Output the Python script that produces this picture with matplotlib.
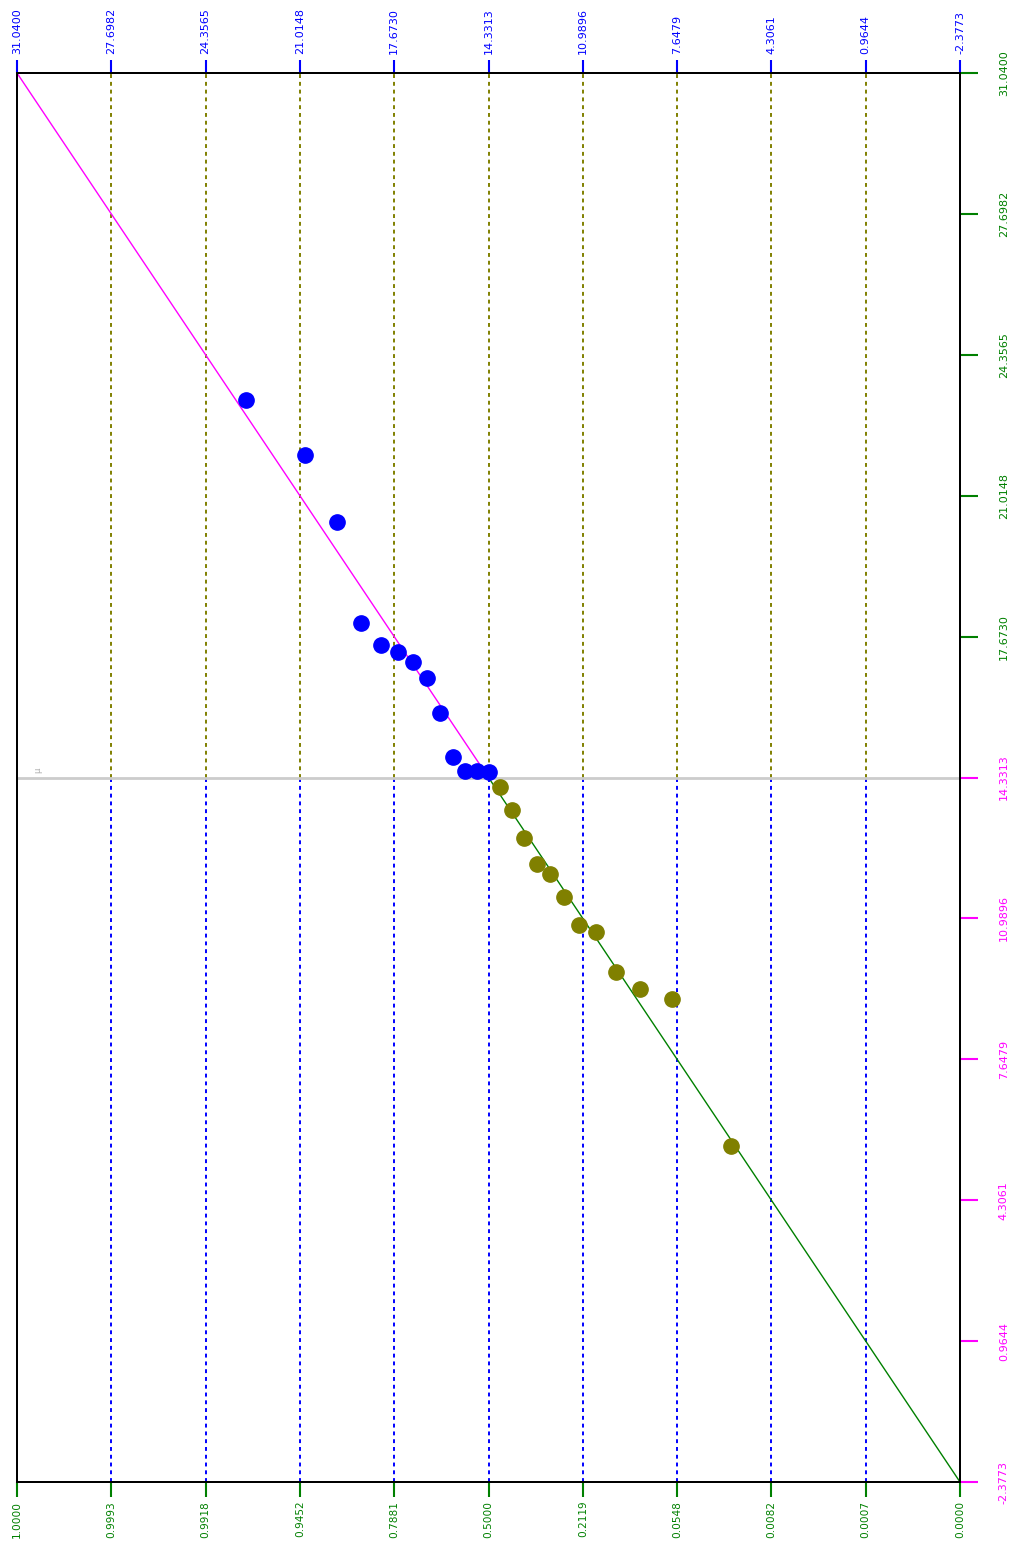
import matplotlib
matplotlib.use("Agg")
import matplotlib.pyplot as plt
from matplotlib import font_manager

# narrow font if available, otherwise a smaller DejaVu Sans
names = {f.name for f in font_manager.fontManager.ttflist}
if 'Liberation Sans Narrow' in names:
    plt.rcParams['font.family'] = ['Liberation Sans Narrow', 'DejaVu Sans']
    FS, FS_B = 10, 10
else:
    plt.rcParams['font.family'] = ['DejaVu Sans']
    FS, FS_B = 8, 7.6

# normal scores (plotting positions) and data values, upper and lower halves
z_upper = [2.054, 1.555, 1.282, 1.080, 0.915, 0.772, 0.643, 0.524, 0.412, 0.305, 0.202, 0.100, 0.0]
v_upper = [23.29, 21.98, 20.39, 18.00, 17.47, 17.31, 17.07, 16.69, 15.86, 14.82, 14.49, 14.49, 14.46]
z_lower = [-0.100, -0.202, -0.305, -0.412, -0.524, -0.643, -0.772, -0.915, -1.080, -1.282, -1.555, -2.054]
v_lower = [14.11, 13.56, 12.90, 12.28, 12.04, 11.50, 10.83, 10.67, 9.72, 9.32, 9.08, 5.59]

mean = 14.3313
sigma = 4.1771

z_ticks = [4.0, 3.2, 2.4, 1.6, 0.8, 0.0, -0.8, -1.6, -2.4, -3.2, -4.0]
prob_labels = ['1.0000', '0.9993', '0.9918', '0.9452', '0.7881', '0.5000',
               '0.2119', '0.0548', '0.0082', '0.0007', '0.0000']
val_labels = ['31.0400', '27.6982', '24.3565', '21.0148', '17.6730', '14.3313',
              '10.9896', '7.6479', '4.3061', '0.9644', '-2.3773']
val_ticks = [float(s) for s in val_labels]

BLUE = '#0000FF'
OLIVE = '#808000'
GREEN = '#008000'
MAGENTA = '#FF00FF'

fig = plt.figure(figsize=(10.17, 15.41), dpi=100)
ax = fig.add_axes([17 / 1017, 1 - 1482 / 1541, 943 / 1017, 1409 / 1541])
ymin, ymax = val_ticks[-1], val_ticks[0]
ax.set_xlim(4, -4)
ax.set_ylim(ymin, ymax)

# extra axes for the magenta right ticks and the blue top ticks
ax3 = ax.twinx()
ax2 = ax.twiny()

# vertical grid: olive above the mean, blue below
for z in z_ticks[1:-1]:
    ax.plot([z, z], [mean, ymax], color=OLIVE, lw=1.4, ls=(0, (2, 2)), zorder=1)
    ax.plot([z, z], [ymin, mean], color=BLUE, lw=1.4, ls=(0, (2, 2)), zorder=1)

# mean line
ax.axhline(mean, color='#cccccc', lw=2, zorder=1)
ax.text(3.82, mean + 0.1, 'μ', color='#aaaaaa', fontsize=6, rotation=90,
        ha='center', va='bottom', family='DejaVu Sans')

# fitted lines
ax.plot([4, 0.06], [mean + 4 * sigma, mean + 0.06 * sigma], color=MAGENTA, lw=1, zorder=2)
ax.plot([0, -4], [mean, mean - 4 * sigma], color=GREEN, lw=1, zorder=2)

# points
ax.plot(z_upper, v_upper, 'o', color=BLUE, ms=11, mec=BLUE, zorder=3)
ax.plot(z_lower, v_lower, 'o', color=OLIVE, ms=11, mec=OLIVE, zorder=3)

# bottom axis: probabilities
ax.set_xticks(z_ticks)
ax.set_xticklabels(prob_labels, rotation=90, fontsize=FS_B)
ax.tick_params(axis='x', colors=GREEN, length=10.5, width=1.5, pad=3)

# right axis: values above the mean in green, the rest in magenta
up_t = [v for v in val_ticks if v > mean]
up_l = [s for s, v in zip(val_labels, val_ticks) if v > mean]
lo_t = [v for v in val_ticks if v <= mean]
lo_l = [s for s, v in zip(val_labels, val_ticks) if v <= mean]

ax.set_yticks(up_t)
ax.set_yticklabels(up_l, rotation=90, fontsize=FS, va='center')
ax.tick_params(axis='y', left=False, labelleft=False, right=True, labelright=True,
               colors=GREEN, length=13, width=1.5, pad=15)

ax3.set_ylim(ymin, ymax)
ax3.set_yticks(lo_t)
ax3.set_yticklabels(lo_l, rotation=90, fontsize=FS, va='center')
ax3.tick_params(axis='y', colors=MAGENTA, length=13, width=1.5, pad=15)

# top axis: values
ax2.set_xlim(4, -4)
ax2.set_xticks(z_ticks)
ax2.set_xticklabels(val_labels, rotation=90, fontsize=FS)
ax2.tick_params(axis='x', colors=BLUE, length=9.5, width=1.5, pad=4)

for a in (ax, ax2, ax3):
    for s in a.spines.values():
        s.set_color('black')
        s.set_linewidth(1.3)

fig.savefig('out.png', dpi=100)
